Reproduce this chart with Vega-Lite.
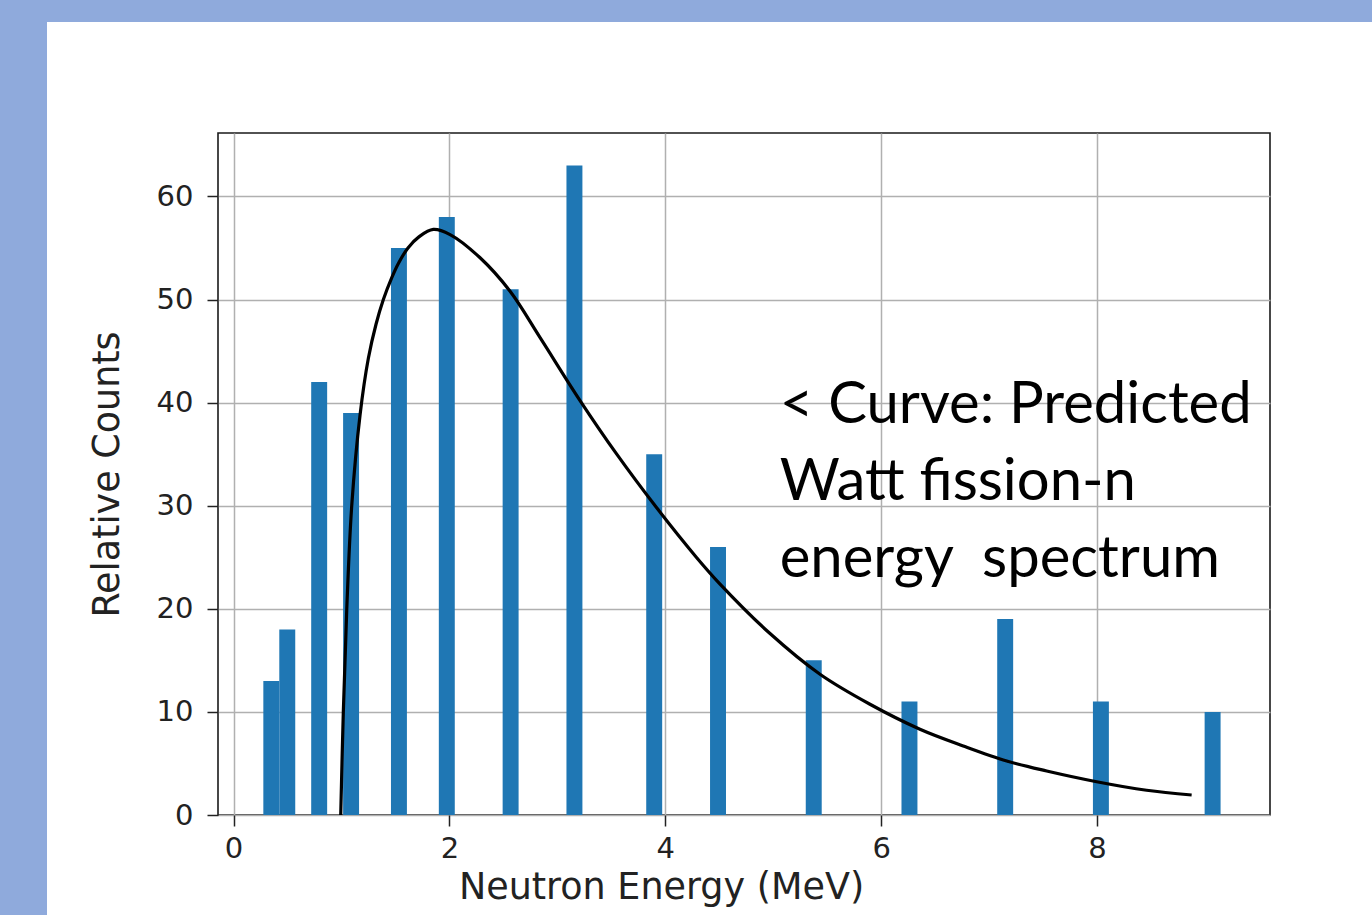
{
  "$schema": "https://vega.github.io/schema/vega-lite/v6.json",
  "background": "white",
  "padding": 0,
  "config": {
    "view": {"stroke": null},
    "concat": {"spacing": 0},
    "axis": {
      "labelFont": "DejaVu Sans",
      "titleFont": "DejaVu Sans",
      "labelColor": "#222222",
      "titleColor": "#222222",
      "titleFontWeight": "normal",
      "tickColor": "#222222",
      "domain": false,
      "gridColor": "#b0b0b0",
      "gridWidth": 1.5
    }
  },
  "datasets": {
    "bars": [
      {"e0": 0.276, "e1": 0.4238, "count": 13},
      {"e0": 0.4238, "e1": 0.5716, "count": 18},
      {"e0": 0.7194, "e1": 0.8672, "count": 42},
      {"e0": 1.015, "e1": 1.1628, "count": 39},
      {"e0": 1.4584, "e1": 1.6062, "count": 55},
      {"e0": 1.9018, "e1": 2.0496, "count": 58},
      {"e0": 2.493, "e1": 2.6408, "count": 51},
      {"e0": 3.0842, "e1": 3.232, "count": 63},
      {"e0": 3.8232, "e1": 3.971, "count": 35},
      {"e0": 4.4144, "e1": 4.5622, "count": 26},
      {"e0": 5.3012, "e1": 5.449, "count": 15},
      {"e0": 6.188, "e1": 6.3358, "count": 11},
      {"e0": 7.0748, "e1": 7.2226, "count": 19},
      {"e0": 7.9616, "e1": 8.1094, "count": 11},
      {"e0": 8.9964, "e1": 9.1442, "count": 10}
    ],
    "curve": [
      {"E": 0.993, "f": 0},
      {"E": 1.017, "f": 10},
      {"E": 1.049, "f": 20},
      {"E": 1.095, "f": 30},
      {"E": 1.172, "f": 38.8},
      {"E": 1.249, "f": 44.3},
      {"E": 1.32, "f": 47.6},
      {"E": 1.388, "f": 50.0},
      {"E": 1.465, "f": 52.1},
      {"E": 1.527, "f": 53.5},
      {"E": 1.616, "f": 55.0},
      {"E": 1.72, "f": 56.1},
      {"E": 1.851, "f": 56.8},
      {"E": 2.006, "f": 56.3},
      {"E": 2.284, "f": 54.05},
      {"E": 2.562, "f": 50.8},
      {"E": 2.84, "f": 46.3},
      {"E": 3.21, "f": 40.2},
      {"E": 3.55, "f": 35.0},
      {"E": 3.92, "f": 29.8},
      {"E": 4.291, "f": 24.96},
      {"E": 4.507, "f": 22.4},
      {"E": 4.97, "f": 17.6},
      {"E": 5.433, "f": 13.65},
      {"E": 5.896, "f": 10.74},
      {"E": 6.359, "f": 8.32},
      {"E": 6.76, "f": 6.7},
      {"E": 7.163, "f": 5.24},
      {"E": 7.533, "f": 4.27},
      {"E": 7.996, "f": 3.23},
      {"E": 8.459, "f": 2.4},
      {"E": 8.876, "f": 1.94}
    ],
    "note": [
      {"label": "< Curve: Predicted\nWatt fission-n\nenergy\u00a0 spectrum"}
    ]
  },
  "vconcat": [
    {
      "width": 1372,
      "height": 22,
      "view": {"fill": "#8FAADC", "stroke": null},
      "data": {"values": []},
      "mark": "rect",
      "encoding": {}
    },
    {
      "hconcat": [
        {
          "width": 47,
          "height": 893,
          "view": {"fill": "#8FAADC", "stroke": null},
          "data": {"values": []},
          "mark": "rect",
          "encoding": {}
        },
        {
          "vconcat": [
            {
              "width": 1,
              "height": 1,
              "data": {"values": []},
              "mark": "rect",
              "encoding": {}
            },
            {
              "width": 1052,
              "height": 682,
              "view": {"stroke": "#1a1a1a", "strokeWidth": 1.6},
              "layer": [
                {
                  "data": {"name": "bars"},
                  "mark": {"type": "rect", "color": "#1f77b4"},
                  "encoding": {
                    "x": {
                      "field": "e0",
                      "type": "quantitative",
                      "scale": {"domain": [-0.144, 9.602], "nice": false, "zero": false},
                      "axis": {
                        "values": [0, 2, 4, 6, 8],
                        "format": "d",
                        "title": "Neutron Energy (MeV)",
                        "titleFontSize": 36.5,
                        "labelFontSize": 29,
                        "tickSize": 11,
                        "tickWidth": 1.5,
                        "labelPadding": 8,
                        "titlePadding": 6,
                        "titleX": 443
                      }
                    },
                    "x2": {"field": "e1"},
                    "y": {
                      "field": "count",
                      "type": "quantitative",
                      "scale": {"domain": [0, 66.15], "nice": false},
                      "axis": {
                        "values": [0, 10, 20, 30, 40, 50, 60],
                        "format": "d",
                        "title": "Relative Counts",
                        "titleFontSize": 36.5,
                        "labelFontSize": 29,
                        "tickSize": 11,
                        "tickWidth": 1.5,
                        "labelPadding": 14,
                        "titlePadding": 30
                      }
                    },
                    "y2": {"datum": 0}
                  }
                },
                {
                  "data": {"name": "curve"},
                  "mark": {"type": "line", "color": "#000000", "strokeWidth": 3.2, "interpolate": "catmull-rom"},
                  "encoding": {
                    "x": {"field": "E", "type": "quantitative"},
                    "y": {"field": "f", "type": "quantitative"}
                  }
                },
                {
                  "data": {"name": "note"},
                  "mark": {
                    "type": "text",
                    "font": "Lato",
                    "fontSize": 58,
                    "lineBreak": "\n",
                    "lineHeight": 77,
                    "align": "left",
                    "baseline": "alphabetic",
                    "color": "#000000"
                  },
                  "encoding": {
                    "x": {"datum": 5.06},
                    "y": {"datum": 38.05},
                    "text": {"field": "label"}
                  }
                }
              ]
            }
          ],
          "spacing": 109
        }
      ],
      "spacing": 41
    }
  ]
}
